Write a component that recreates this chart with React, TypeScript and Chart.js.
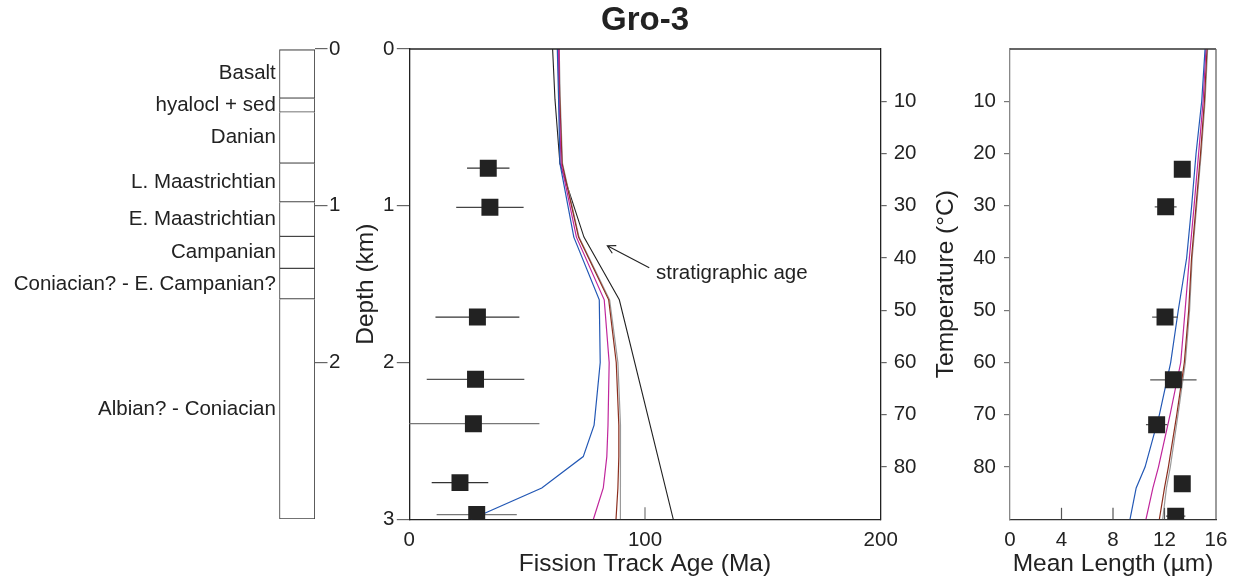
import React, { useEffect, useRef } from "react";
import { Chart, registerables } from "chart.js";

Chart.register(...registerables);

const FONT = "'Liberation Sans', Arial, Helvetica, sans-serif";
Chart.defaults.font.family = FONT;
Chart.defaults.color = "#222";

// ---- Stratigraphic column (depth, km) ----
const unitNames = [
  "Basalt",
  "hyalocl + sed",
  "Danian",
  "L. Maastrichtian",
  "E. Maastrichtian",
  "Campanian",
  "Coniacian? - E. Campanian?",
  "Albian? - Coniacian",
];
const unitTops = [0, 0.315, 0.404, 0.73, 0.978, 1.198, 1.402, 1.597];
const unitBases = [0.315, 0.404, 0.73, 0.978, 1.198, 1.402, 1.597, 3];
const columnDepthTicks = [0, 1, 2];

// ---- Fission track samples ----
const sampleDepth = [0.76, 1.01, 1.71, 2.107, 2.39, 2.766, 2.97];
const sampleAge = [33.5, 34.2, 28.9, 28.1, 27.2, 21.5, 28.6];
const sampleAgeErr = [9, 14.3, 17.8, 20.7, 28, 12, 17];
const sampleTemp = [23, 30.2, 51.3, 63.3, 71.9, 83.2, 89.4];
const sampleLength = [13.38, 12.09, 12.04, 12.69, 11.39, 13.38, 12.87];
const sampleLengthErr = [0.4, 0.85, 1.0, 1.8, 0.83, 0.4, 0.75];

// ---- Stratigraphic age with depth ----
const stratDepth = [0, 0.32, 0.73, 1.2, 1.6, 3.0];
const stratAge = [60.8, 61.8, 63.9, 74.1, 89.1, 112];

// ---- Modelled fission track ages ----
const modelDepth = [0, 0.3, 0.73, 1.2, 1.6, 2.0, 2.4, 2.6, 2.8, 3.0];
const ageBlue = [62.8, 63.3, 63.9, 69.8, 80.6, 81.0, 78.4, 73.8, 56.2, 26.2];
const ageMagenta = [63.1, 63.5, 64.4, 70.9, 82.7, 84.8, 84.3, 83.8, 82.3, 78.1];
const ageBrown = [63.4, 63.8, 64.8, 71.8, 84.6, 87.8, 88.9, 88.9, 88.5, 87.7];
const ageGray = [63.6, 64.0, 65.0, 72.0, 85.0, 88.5, 89.6, 89.7, 89.6, 89.4];

// ---- Modelled mean track lengths ----
const modelTemp = [0, 10, 20, 30, 40, 50, 60, 70, 80, 84, 90];
const lenBlue = [15.15, 14.89, 14.45, 14.11, 13.72, 13.07, 12.48, 11.6, 10.49, 9.8, 9.32];
const lenMagenta = [15.22, 15.0, 14.65, 14.3, 13.93, 13.6, 13.26, 12.43, 11.53, 11.1, 10.56];
const lenBrown = [15.3, 15.1, 14.8, 14.45, 14.1, 13.88, 13.54, 12.95, 12.3, 12.0, 11.6];
const lenGray = [15.35, 15.15, 14.85, 14.5, 14.15, 13.95, 13.62, 13.05, 12.45, 12.15, 11.86];

// ---- Axis ticks ----
const depthTicks = [0, 1, 2, 3];
const ageTicks = [0, 100, 200];
const tempTicks = [10, 20, 30, 40, 50, 60, 70, 80];
const lengthTicks = [0, 4, 8, 12, 16];

// Colours
const INK = "#222";
const BLUE = "#2358b5";
const MAGENTA = "#c0269c";
const BROWN = "#8b2e1e";
const GRAY = "#9a9a9a";
const errShade = ["#333", "#444", "#333", "#555", "#777", "#333", "#777"];

const SMALL = 20.5;
const LARGE = 24.5;

const setTicks = (values: number[]) => (scale: any) => {
  scale.ticks = values.map((v) => ({ value: v }));
};

// Outline along the top (and optionally right) of the plotting area
const framePlugin = (right: string | null, top: string) => ({
  id: "frame",
  afterDraw(chart: any) {
    const { ctx, chartArea: a } = chart;
    ctx.save();
    ctx.lineWidth = 1.3;
    ctx.strokeStyle = top;
    ctx.beginPath();
    ctx.moveTo(a.left, a.top);
    ctx.lineTo(a.right, a.top);
    ctx.stroke();
    if (right) {
      ctx.strokeStyle = right;
      ctx.beginPath();
      ctx.moveTo(a.right, a.top);
      ctx.lineTo(a.right, a.bottom);
      ctx.stroke();
    }
    ctx.restore();
  },
});

// Short tick marks pointing into the plot from the bottom axis
const innerTicksPlugin = (len: number, color: string) => ({
  id: "innerTicks",
  afterDraw(chart: any) {
    const { ctx, chartArea: a, scales } = chart;
    const xs = scales.x;
    ctx.save();
    ctx.strokeStyle = color;
    ctx.lineWidth = 1.2;
    xs.ticks.forEach((t: any) => {
      if (t.value === xs.min || t.value === xs.max) return;
      const px = xs.getPixelForValue(t.value);
      ctx.beginPath();
      ctx.moveTo(px, a.bottom);
      ctx.lineTo(px, a.bottom - len);
      ctx.stroke();
    });
    ctx.restore();
  },
});

// Unit names beside the stratigraphic column
const unitLabelPlugin = {
  id: "unitLabels",
  afterDatasetsDraw(chart: any) {
    const { ctx, chartArea, scales } = chart;
    ctx.save();
    ctx.font = `${SMALL}px ${FONT}`;
    ctx.fillStyle = INK;
    ctx.textAlign = "right";
    ctx.textBaseline = "middle";
    unitNames.forEach((name, i) => {
      const y = scales.y.getPixelForValue((unitTops[i] + unitBases[i]) / 2);
      ctx.fillText(name, chartArea.left - 3.5, y);
    });
    ctx.restore();
  },
};

// "stratigraphic age" pointer
const noteText = "stratigraphic age";
const noteTail = { x: 101.8, y: 1.395 };
const noteHead = { x: 84.0, y: 1.255 };
const noteAt = { x: 104.7, y: 1.43 };
const notePlugin = {
  id: "note",
  afterDatasetsDraw(chart: any) {
    const { ctx, scales } = chart;
    const sx = scales.x;
    const sy = scales.y;
    const x1 = sx.getPixelForValue(noteTail.x);
    const y1 = sy.getPixelForValue(noteTail.y);
    const x2 = sx.getPixelForValue(noteHead.x);
    const y2 = sy.getPixelForValue(noteHead.y);
    ctx.save();
    ctx.strokeStyle = INK;
    ctx.lineWidth = 1.1;
    ctx.beginPath();
    ctx.moveTo(x1, y1);
    ctx.lineTo(x2, y2);
    const ang = Math.atan2(y1 - y2, x1 - x2);
    const hl = 9;
    const spread = 0.5;
    ctx.moveTo(x2 + hl * Math.cos(ang - spread), y2 + hl * Math.sin(ang - spread));
    ctx.lineTo(x2, y2);
    ctx.lineTo(x2 + hl * Math.cos(ang + spread), y2 + hl * Math.sin(ang + spread));
    ctx.stroke();
    ctx.font = `${SMALL}px ${FONT}`;
    ctx.fillStyle = INK;
    ctx.textAlign = "left";
    ctx.textBaseline = "middle";
    ctx.fillText(noteText, sx.getPixelForValue(noteAt.x), sy.getPixelForValue(noteAt.y));
    ctx.restore();
  },
};

const curve = (xs: number[], ys: number[], color: string, width = 1.2) => ({
  data: xs.map((x, i) => ({ x, y: ys[i] })),
  showLine: true,
  borderColor: color,
  backgroundColor: color,
  borderWidth: width,
  pointRadius: 0,
  fill: false,
});

const squares = (xs: number[], ys: number[]) => ({
  data: xs.map((x, i) => ({ x, y: ys[i] })),
  showLine: false,
  pointStyle: "rect",
  pointRadius: 12,
  pointBorderWidth: 0,
  backgroundColor: INK,
  borderColor: INK,
});

const errorBars = (center: number[], err: number[], ys: number[], colors: string[]) =>
  center.map((c, i) => ({
    data: [
      { x: c - err[i], y: ys[i] },
      { x: c + err[i], y: ys[i] },
    ],
    showLine: true,
    borderColor: colors[i],
    borderWidth: 1.3,
    pointRadius: 0,
  }));

const quiet = {
  legend: { display: false },
  tooltip: { enabled: false },
};

function columnConfig(): any {
  return {
    type: "bar",
    data: {
      labels: ["column"],
      datasets: unitNames.map((name, i) => ({
        label: name,
        data: [[unitTops[i], unitBases[i]]],
        backgroundColor: "#fff",
        borderColor: "#444",
        borderWidth: { top: i === 0 ? 1.2 : 0, left: 1.2, right: 1.2, bottom: 1.2 },
        borderSkipped: false,
        grouped: false,
        barPercentage: 1,
        categoryPercentage: 1,
      })),
    },
    options: {
      animation: false,
      responsive: false,
      events: [],
      layout: { padding: { left: 279.3, right: 0, top: 49, bottom: 69 } },
      plugins: quiet,
      scales: {
        x: { display: false },
        y: {
          position: "right",
          reverse: true,
          min: 0,
          max: 3,
          afterBuildTicks: setTicks(columnDepthTicks),
          afterFit: (s: any) => {
            s.width = 45;
          },
          ticks: { font: { size: SMALL }, color: INK, padding: 1.5 },
          grid: { drawOnChartArea: false, tickLength: 12.5, color: "#666", lineWidth: 1.2 },
          border: { display: false },
        },
      },
    },
    plugins: [unitLabelPlugin],
  };
}

function ageConfig(): any {
  return {
    type: "scatter",
    data: {
      datasets: [
        squares(sampleAge, sampleDepth),
        ...errorBars(sampleAge, sampleAgeErr, sampleDepth, errShade),
        curve(ageBlue, modelDepth, BLUE),
        curve(ageMagenta, modelDepth, MAGENTA),
        curve(ageBrown, modelDepth, BROWN),
        curve(ageGray, modelDepth, GRAY),
        curve(stratAge, stratDepth, INK, 1.1),
      ],
    },
    options: {
      animation: false,
      responsive: false,
      events: [],
      layout: { padding: { left: 0, right: 0, top: 0, bottom: 9.3 } },
      plugins: {
        ...quiet,
        title: {
          display: true,
          text: "Gro-3",
          fullSize: false,
          font: { size: 33, weight: "bold" },
          color: INK,
          padding: { top: 1.2, bottom: 8.2 },
        },
      },
      scales: {
        x: {
          type: "linear",
          min: 0,
          max: 200,
          afterBuildTicks: setTicks(ageTicks),
          afterFit: (s: any) => {
            s.height = 59.4;
          },
          ticks: { font: { size: SMALL }, color: INK, padding: 9 },
          grid: { drawOnChartArea: false, drawTicks: false },
          border: { color: INK, width: 1.3 },
          title: {
            display: true,
            text: "Fission Track Age (Ma)",
            font: { size: LARGE },
            color: INK,
            padding: 0,
          },
        },
        y: {
          type: "linear",
          position: "left",
          reverse: true,
          min: 0,
          max: 3,
          afterBuildTicks: setTicks(depthTicks),
          afterFit: (s: any) => {
            s.width = 69.3;
          },
          ticks: { font: { size: SMALL }, color: INK, padding: 2.5 },
          grid: { drawOnChartArea: false, tickLength: 12.5, color: "#666", lineWidth: 1.2 },
          border: { color: INK, width: 1.3 },
          title: {
            display: true,
            text: "Depth (km)",
            font: { size: LARGE },
            color: INK,
            padding: { top: 11.5, bottom: 0 },
          },
        },
        temp: {
          type: "linear",
          position: "right",
          reverse: true,
          min: 0,
          max: 90,
          afterBuildTicks: setTicks(tempTicks),
          afterFit: (s: any) => {
            s.width = 39.3;
          },
          ticks: { font: { size: SMALL }, color: INK, padding: 7 },
          grid: { drawOnChartArea: false, tickLength: 6, color: "#666", lineWidth: 1.2 },
          border: { color: INK, width: 1.3 },
        },
      },
    },
    plugins: [framePlugin(null, INK), innerTicksPlugin(12, "#777"), notePlugin],
  };
}

function lengthConfig(): any {
  return {
    type: "scatter",
    data: {
      datasets: [
        squares(sampleLength, sampleTemp),
        ...errorBars(sampleLength, sampleLengthErr, sampleTemp, sampleTemp.map(() => "#555")),
        curve(lenBlue, modelTemp, BLUE),
        curve(lenMagenta, modelTemp, MAGENTA),
        curve(lenBrown, modelTemp, BROWN),
        curve(lenGray, modelTemp, GRAY),
      ],
    },
    options: {
      animation: false,
      responsive: false,
      events: [],
      layout: { padding: { left: 0, right: 26, top: 49, bottom: 9.3 } },
      plugins: quiet,
      scales: {
        x: {
          type: "linear",
          min: 0,
          max: 16,
          afterBuildTicks: setTicks(lengthTicks),
          afterFit: (s: any) => {
            s.height = 59.4;
          },
          ticks: { font: { size: SMALL }, color: INK, padding: 9 },
          grid: { drawOnChartArea: false, drawTicks: false },
          border: { color: "#333", width: 1.3 },
          title: {
            display: true,
            text: "Mean Length (µm)",
            font: { size: LARGE },
            color: INK,
            padding: 0,
          },
        },
        y: {
          type: "linear",
          position: "left",
          reverse: true,
          min: 0,
          max: 90,
          afterBuildTicks: setTicks(tempTicks),
          afterFit: (s: any) => {
            s.width = 90;
          },
          ticks: { font: { size: SMALL }, color: INK, padding: 8 },
          grid: { drawOnChartArea: false, tickLength: 6, color: "#777", lineWidth: 1.2 },
          border: { color: "#888", width: 1.3 },
          title: {
            display: true,
            text: "Temperature (°C)",
            font: { size: LARGE },
            color: INK,
            padding: { top: 11.3, bottom: 0 },
          },
        },
      },
    },
    plugins: [framePlugin("#666", "#333"), innerTicksPlugin(11.5, "#555")],
  };
}

export default function App() {
  const colRef = useRef<HTMLCanvasElement>(null);
  const ageRef = useRef<HTMLCanvasElement>(null);
  const lenRef = useRef<HTMLCanvasElement>(null);

  useEffect(() => {
    const charts = [
      new Chart(colRef.current!, columnConfig()),
      new Chart(ageRef.current!, ageConfig()),
      new Chart(lenRef.current!, lengthConfig()),
    ];
    return () => charts.forEach((c) => c.destroy());
  }, []);

  const abs = (left: number, width: number): React.CSSProperties => ({
    position: "absolute",
    left,
    top: 0,
    width,
    height: 588,
  });

  return (
    <div
      style={{
        position: "fixed",
        left: 0,
        top: 0,
        width: 1242,
        height: 588,
        background: "#fff",
        overflow: "hidden",
      }}
    >
      <canvas ref={colRef} width={360} height={588} style={abs(0, 360)} />
      <canvas ref={ageRef} width={580} height={588} style={abs(340, 580)} />
      <canvas ref={lenRef} width={322} height={588} style={abs(920, 322)} />
    </div>
  );
}
